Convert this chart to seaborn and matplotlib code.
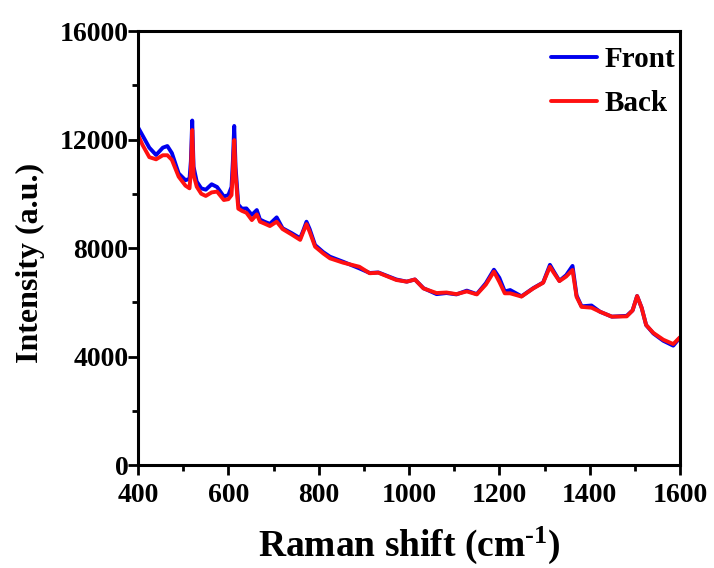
import numpy as np
import pandas as pd
import matplotlib
matplotlib.use("Agg")
import matplotlib.pyplot as plt
from matplotlib.ticker import MultipleLocator
import seaborn as sns

raman_shift = [400, 410, 425, 440, 455, 465, 475, 490, 505, 514, 517, 520, 523, 530, 540, 550,
               563, 575, 590, 600, 607, 610, 613, 616, 622, 630, 640, 652, 663, 670, 680, 692,
               707, 720, 740, 759, 766, 773, 780, 792, 810, 825, 854, 890, 913, 932, 972, 995,
               1013, 1032, 1061, 1083, 1105, 1128, 1150, 1170, 1188, 1200, 1212, 1224, 1249,
               1275, 1297, 1312, 1320, 1333, 1348, 1362, 1371, 1382, 1404, 1423, 1449, 1482,
               1495, 1505, 1515, 1525, 1541, 1563, 1585, 1600]

front = [12450, 12150, 11700, 11430, 11700, 11760, 11500, 10750, 10500, 10550, 11200, 12700,
         11000, 10450, 10200, 10150, 10350, 10250, 9900, 9950, 10250, 11200, 12500, 11000,
         9600, 9450, 9460, 9220, 9400, 9050, 8970, 8890, 9130, 8730, 8550, 8360, 8650, 8970,
         8700, 8110, 7850, 7680, 7495, 7250, 7080, 7100, 6840, 6760, 6840, 6520, 6300, 6340,
         6290, 6430, 6300, 6700, 7200, 6900, 6400, 6450, 6220, 6520, 6730, 7380, 7150, 6790,
         7000, 7340, 6250, 5850, 5880, 5650, 5470, 5500, 5700, 6230, 5800, 5160, 4850, 4580,
         4400, 4700]

back = [12170, 11800, 11350, 11270, 11420, 11420, 11250, 10630, 10300, 10200, 10800, 12350,
        10700, 10260, 10000, 9920, 10050, 10080, 9770, 9800, 9950, 10800, 11980, 10700,
        9450, 9370, 9300, 9030, 9240, 8970, 8900, 8810, 8970, 8700, 8500, 8300, 8600, 8880,
        8600, 8050, 7800, 7620, 7460, 7310, 7070, 7090, 6820, 6760, 6840, 6510, 6340, 6360,
        6300, 6400, 6290, 6650, 7130, 6750, 6330, 6330, 6210, 6510, 6720, 7310, 7100, 6780,
        6950, 7190, 6200, 5830, 5800, 5650, 5470, 5480, 5700, 6230, 5800, 5160, 4870, 4620,
        4460, 4710]

series_names = ["Front", "Back"]
x_ticks = [400, 600, 800, 1000, 1200, 1400, 1600]
y_ticks = [0, 4000, 8000, 12000, 16000]

sns.set_theme(style="ticks")
plt.rcParams["font.family"] = ["Liberation Serif", "DejaVu Serif"]
plt.rcParams["font.weight"] = "bold"
plt.rcParams["mathtext.fontset"] = "custom"
plt.rcParams["mathtext.rm"] = "Liberation Serif:bold"
plt.rcParams["mathtext.bf"] = "Liberation Serif:bold"
plt.rcParams["mathtext.default"] = "rm"
for key in ["text.color", "axes.labelcolor", "xtick.color", "ytick.color", "axes.edgecolor"]:
    plt.rcParams[key] = "black"

df = pd.concat([
    pd.DataFrame({"shift": raman_shift, "intensity": front, "sample": series_names[0]}),
    pd.DataFrame({"shift": raman_shift, "intensity": back, "sample": series_names[1]}),
])

fig = plt.figure(figsize=(7.14, 5.68), dpi=100)
ax = fig.add_axes([0.1933, 0.1813, 0.7591, 0.7641])

sns.lineplot(data=df, x="shift", y="intensity", hue="sample", sort=False,
             palette={"Front": "#0000EE", "Back": "#FF1010"}, linewidth=2.8, ax=ax)

ax.set_xlim(400, 1600)
ax.set_ylim(0, 16000)
ax.set_xticks(x_ticks)
ax.set_yticks(y_ticks)
ax.xaxis.set_minor_locator(MultipleLocator(100))
ax.yaxis.set_minor_locator(MultipleLocator(2000))
ax.tick_params(axis="both", which="major", direction="out", length=7, width=2,
               top=False, right=False, colors="black")
ax.tick_params(axis="both", which="minor", direction="out", length=4, width=2,
               top=False, right=False, colors="black")
ax.tick_params(axis="x", labelsize=20, pad=6)
ax.tick_params(axis="y", labelsize=20, pad=0)
for lab in ax.get_xticklabels() + ax.get_yticklabels():
    lab.set_fontweight("bold")
for sp in ax.spines.values():
    sp.set_visible(True)
    sp.set_linewidth(2.2)
    sp.set_color("black")

ax.set_xlabel(r"Raman shift (cm$^{\text{-1}}$)", fontsize=27, fontweight="bold")
ax.set_ylabel("Intensity (a.u.)", fontsize=23, fontweight="bold")
ax.xaxis.set_label_coords(0.5, -0.138)
ax.yaxis.set_label_coords(-0.171, 0.465)

leg = ax.legend(loc="upper right", bbox_to_anchor=(0.991, 0.965), frameon=False,
                fontsize=21, handlelength=1.58, handletextpad=0.27, borderpad=0,
                borderaxespad=0, labelspacing=0.57)
for t in leg.get_texts():
    t.set_fontweight("bold")
for h in leg.get_lines():
    h.set_linewidth(2.8)

fig.savefig("out.png", dpi=100)
